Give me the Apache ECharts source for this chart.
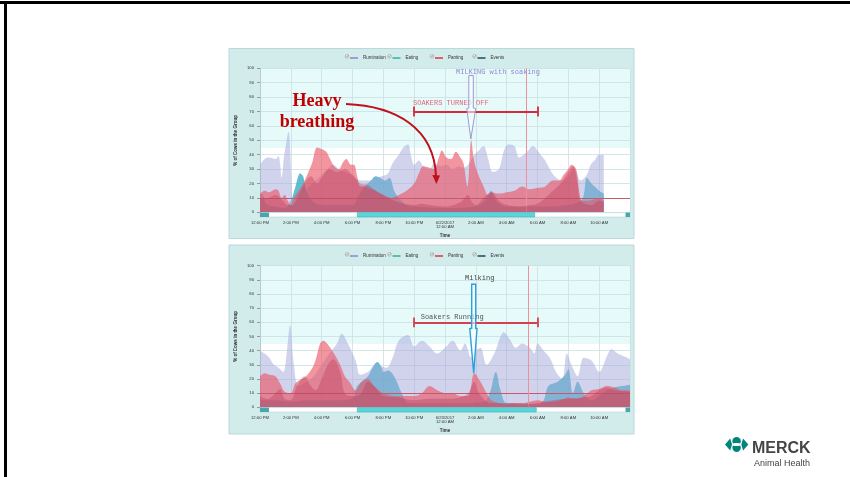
<!DOCTYPE html>
<html><head><meta charset="utf-8">
<script src="https://cdn.jsdelivr.net/npm/echarts@6/dist/echarts.min.js"></script>
<style>html,body{margin:0;padding:0;background:#fff}#c{width:850px;height:477px}</style>
</head><body><div id="c"></div>
<script>
// ---------- tick labels / names ----------
const legendNames = ['Rumination', 'Eating', 'Panting', 'Events'];
const xTickLabelsTop = ['12:00 PM','2:00 PM','4:00 PM','6:00 PM','8:00 PM','10:00 PM','6/22/2017\n12:00 AM','2:00 AM','4:00 AM','6:00 AM','8:00 AM','10:00 AM',''];
const xTickLabelsBottom = ['12:00 PM','2:00 PM','4:00 PM','6:00 PM','8:00 PM','10:00 PM','6/23/2017\n12:00 AM','2:00 AM','4:00 AM','6:00 AM','8:00 AM','10:00 AM',''];
const yTickValues = [0,10,20,30,40,50,60,70,80,90,100];

// ---------- data: [hours after 12:00 PM, % of cows] ----------
const ruminationTop = [[0,33],[0.3,37],[0.6,38],[1.0,37],[1.2,39],[1.3,34],[1.4,24],[1.55,38],[1.7,48],[1.85,56],[1.95,45],[2.05,20],[2.15,8],[2.4,10],[2.8,14],[3.2,18],[3.6,22],[4.0,26],[4.4,30],[4.75,33],[5.1,30],[5.5,28],[5.9,26],[6.3,23],[6.7,22],[7.1,22],[7.5,24],[7.9,25],[8.3,27],[8.6,34],[9.0,40],[9.3,45],[9.6,47],[9.8,39],[10.0,33],[10.3,36],[10.6,32],[11.0,30],[11.3,34],[11.7,32],[12.1,33],[12.5,30],[12.9,32],[13.2,31],[13.5,33],[13.9,40],[14.2,43],[14.5,46],[14.8,37],[15.1,28],[15.5,30],[15.8,42],[16.1,47],[16.5,46],[16.8,38],[17.1,40],[17.4,43],[17.7,46],[18.0,43],[18.2,40],[18.5,36],[18.8,30],[19.1,25],[19.6,22],[20.0,25],[20.4,30],[20.8,22],[21.2,26],[21.45,33],[21.7,36],[22.0,40],[22.3,40]];
const eatingTop = [[0,13],[0.2,12],[0.4,6],[1,4],[1.6,3],[2.0,8],[2.3,18],[2.6,27],[2.8,25],[3.0,15],[3.4,8],[4,5],[5,5],[6,5],[6.4,12],[6.8,18],[7.2,22],[7.5,25],[7.8,24],[8.1,22],[8.4,24],[8.7,15],[9.0,10],[9.5,5],[10,4],[12,3],[14,4],[14.6,8],[15.0,15],[15.3,8],[16,4],[18,4],[20,5],[20.8,8],[21.0,12],[21.2,24],[21.5,20],[21.8,17],[22.0,15],[22.3,13]];
const pantingTop = [[0,13],[0.3,15],[0.6,14],[1.0,16],[1.2,15],[1.4,10],[1.6,12],[1.8,8],[2.0,5],[2.2,10],[2.5,15],[2.8,20],[3.1,27],[3.4,35],[3.7,45],[4.0,44],[4.3,42],[4.5,38],[4.8,32],[5.1,30],[5.4,35],[5.6,37],[5.9,33],[6.1,33],[6.3,25],[6.5,18],[6.8,18],[7.0,17],[7.5,15],[8.0,12],[8.5,10],[9.0,12],[9.5,15],[10.0,20],[10.3,27],[10.6,32],[11.0,31],[11.3,30],[11.6,38],[11.8,43],[12.1,38],[12.4,37],[12.7,42],[13.0,38],[13.2,34],[13.45,18],[13.7,50],[13.9,35],[14.2,25],[14.5,18],[14.8,12],[15.0,14],[15.5,13],[16.0,14],[16.5,15],[17.0,18],[17.5,16],[18.0,17],[18.5,18],[19.0,22],[19.4,22],[19.7,26],[20.0,30],[20.2,33],[20.5,30],[20.7,15],[20.9,8],[21.3,8],[21.7,9],[22.0,10],[22.3,8]];
const pantingLowTop = [[0,10],[0.5,10],[1.0,12],[1.5,8],[1.8,5],[2.1,5],[2.5,12],[3.0,22],[3.3,25],[3.7,20],[4.0,24],[4.5,30],[5.0,28],[5.5,30],[6.0,26],[6.5,20],[7.0,19],[7.5,15],[8.0,12],[8.5,9],[9.0,7],[10.0,5],[10.5,6],[11.0,5],[12.0,4],[13.0,7],[13.5,12],[13.7,8],[14.0,5],[14.5,10],[15.0,14],[15.5,8],[16.0,5],[17.0,4],[17.5,5],[18.0,6],[18.5,10],[19.0,15],[19.5,20],[20.0,28],[20.3,32],[20.6,20],[20.8,8],[21.5,5],[22.0,8],[22.3,7]];

const ruminationBottom = [[0,40],[0.3,38],[0.6,35],[0.9,30],[1.2,28],[1.5,25],[1.75,40],[1.95,58],[2.2,30],[2.5,15],[3.0,18],[3.5,22],[4.0,30],[4.5,38],[5.0,45],[5.3,52],[5.7,45],[6.2,33],[6.5,23],[7.0,25],[7.5,30],[8.2,28],[8.6,35],[9.0,47],[9.6,51],[10.0,43],[10.5,47],[11.0,43],[11.5,38],[12.0,42],[12.5,47],[13.0,40],[13.3,45],[13.7,35],[14.0,40],[14.3,42],[14.7,30],[15.2,38],[15.6,50],[15.8,53],[16.2,48],[16.6,42],[17.0,45],[17.5,42],[17.8,38],[18.0,45],[18.4,40],[18.8,35],[19.2,25],[19.6,20],[19.9,38],[20.2,30],[20.6,22],[21.0,35],[21.5,33],[22.0,25],[22.5,36],[22.8,41],[23.2,38],[23.6,36],[24.0,34]];
const eatingBottom = [[0,5],[1,5],[2,4],[3,5],[4,5],[5,5],[6,6],[6.3,15],[7.0,22],[7.3,28],[7.6,32],[7.9,28],[8.0,25],[8.3,26],[8.7,22],[9.2,10],[9.6,3],[11,3],[13,3],[14.5,4],[14.9,10],[15.3,25],[15.6,12],[16.0,3],[17,3],[18,2],[18.4,5],[18.7,15],[19.3,18],[19.8,23],[20.0,27],[20.3,10],[20.6,18],[21.0,10],[21.5,5],[22.0,8],[22.5,12],[23.0,14],[23.5,15],[24.0,16]];
const pantingBottom = [[0,22],[0.3,24],[0.6,23],[1.0,22],[1.3,17],[1.6,11],[2.0,10],[2.3,17],[2.7,20],[3.0,22],[3.5,30],[3.9,45],[4.1,47],[4.5,43],[4.8,38],[5.2,30],[5.5,22],[5.8,18],[6.2,12],[6.6,18],[7.0,20],[7.4,15],[8.0,10],[9.0,8],[10.0,8],[10.5,10],[11.0,15],[11.5,12],[12.0,10],[12.5,10],[13.0,8],[13.5,8],[13.9,24],[14.3,18],[14.7,10],[15.0,5],[15.5,3],[16.0,2],[16.5,3],[17.0,3],[17.5,4],[18.0,5],[18.5,4],[19.0,4],[19.5,5],[20.0,7],[20.5,6],[21.0,8],[21.5,12],[22.0,13],[22.5,15],[23.0,14],[23.5,12],[24.0,12]];
const pantingLowBottom = [[0,8],[0.5,6],[1.0,10],[1.3,13],[1.6,6],[2.0,5],[2.4,15],[2.9,22],[3.3,15],[3.6,12],[4.0,20],[4.4,30],[4.75,34],[5.2,25],[5.5,10],[6.0,8],[6.5,9],[7.0,18],[7.4,15],[8.0,8],[9.0,7],[10.0,5],[11.0,6],[12.0,6],[13.0,7],[13.5,10],[13.9,18],[14.2,10],[15.0,3],[16.0,3],[17.0,2],[18.0,3],[19.0,5],[20.0,6],[21.0,7],[21.5,8],[22.0,12],[22.5,14],[23.0,12],[24.0,11]];

// ---------- styles ----------
const seriesColors = {Rumination:'#8c8cd8', Eating:'#3ab5a6', Panting:'#e0404a', Events:'#22566a'};
const FONT = '"Liberation Sans", Arial, sans-serif';
const MONO = '"Liberation Mono", "Courier New", monospace';

const grids = [
  {left:260, top:68.3, width:370, height:144},
  {left:260, top:265.7, width:370, height:141.6}
];
const plotBg = {type:'linear', x:0, y:0, x2:0, y2:1, colorStops:[
  {offset:0, color:'#e6fafa'},{offset:0.55, color:'#e6fafa'},{offset:0.551, color:'#ffffff'},{offset:1, color:'#ffffff'}]};

function xAxisFor(i, labels) {
  return {type:'value', gridIndex:i, min:0, max:24, interval:2,
    name:'Time', nameLocation:'middle', nameGap:21,
    nameTextStyle:{fontSize:4.5, fontWeight:'bold', color:'#333', fontFamily:FONT},
    axisLine:{show:false}, axisTick:{show:false},
    axisLabel:{fontSize:4.2, color:'#333', margin:8, lineHeight:4.6, fontFamily:FONT,
      formatter: v => labels[Math.round(v/2)] || ''},
    splitLine:{show:true, lineStyle:{color:'#c9dfe2', width:0.8}}};
}
function yAxisFor(i) {
  return {type:'value', gridIndex:i, min:0, max:100, interval:10,
    name:'% of Cows in the Group', nameLocation:'middle', nameGap:22,
    nameTextStyle:{fontSize:4.5, fontWeight:'bold', color:'#333', fontFamily:FONT},
    axisLine:{show:true, lineStyle:{color:'#b8cccf'}},
    axisTick:{show:true, length:3, lineStyle:{color:'#999'}},
    axisLabel:{fontSize:4.2, color:'#333', margin:6, fontFamily:FONT,
      formatter: v => yTickValues.indexOf(v) >= 0 ? String(v) : ''},
    splitLine:{show:true, lineStyle:{color:'#c9dfe2', width:0.8}}};
}
function area(name, i, data, fill, opacity, z) {
  return {name:name, type:'line', xAxisIndex:i, yAxisIndex:i, data:data, smooth:0.35,
    symbol:'none', showSymbol:false, lineStyle:{width:0}, color:seriesColors[name] || fill,
    areaStyle:{color:fill, opacity:opacity}, z:z, silent:true};
}
function eventsFor(i, vLine, bracketY, bracketColor) {
  return {name:'Events', type:'line', xAxisIndex:i, yAxisIndex:i, data:[], color:seriesColors.Events, z:8,
    markLine:{silent:true, symbol:'none', label:{show:false}, animation:false,
      data:[
        {yAxis:10, lineStyle:{color:'#c8586c', width:1, type:'solid'}},
        {xAxis:vLine, lineStyle:{color:'#ee8f9a', width:1, type:'solid'}},
        [{coord:[10,bracketY], lineStyle:{color:bracketColor, width:1.8, type:'solid'}},{coord:[18,bracketY]}],
        [{coord:[10,bracketY-3.5], lineStyle:{color:bracketColor, width:1.8, type:'solid'}},{coord:[10,bracketY+3.5]}],
        [{coord:[18,bracketY-3.5], lineStyle:{color:bracketColor, width:1.8, type:'solid'}},{coord:[18,bracketY+3.5]}]
      ]}};
}

const series = [];
[[eatingTop, ruminationTop, pantingTop, pantingLowTop],[eatingBottom, ruminationBottom, pantingBottom, pantingLowBottom]].forEach((d, i) => {
  series.push(area('Eating', i, d[0], '#3aaec4', 0.8, 2));
  series.push(area('Rumination', i, d[1], '#a3a8da', 0.5, 3));
  series.push(area('Panting', i, d[2], '#ea5464', 0.62, 4));
  series.push(area('Panting (baseline)', i, d[3], '#b83a5a', 0.36, 5));
});
series.push(eventsFor(0, 17.3, 70, '#d42a3a'));
series.push(eventsFor(1, 17.4, 60, '#d44050'));

// legends: one component per item so each sits at a fixed slot
const legendSlots = [350, 392.5, 435, 477.5];
const legendRows = [55.5, 253.5];
const legends = [];
legendRows.forEach(top => legendNames.forEach((n, k) => legends.push({
  data:[n], left:legendSlots[k], top:top, padding:0, itemWidth:8, itemHeight:1.6, icon:'rect',
  selectedMode:false, textStyle:{fontSize:4.5, color:'#333', fontFamily:FONT}
})));

// ---------- decorative graphics ----------
const g = [];
// slide border
g.push({type:'rect', shape:{x:0, y:1, width:850, height:3}, style:{fill:'#000'}, z:-100, silent:true});
g.push({type:'rect', shape:{x:4, y:1, width:3, height:476}, style:{fill:'#000'}, z:-100, silent:true});
// chart panels
[[48.5, 190], [245, 189]].forEach(p => g.push({type:'rect', shape:{x:229, y:p[0], width:405, height:p[1]},
  style:{fill:'#d2ebeb', stroke:'#b9d9da', lineWidth:1}, z:-90, silent:true}));
// legend check boxes
legendRows.forEach(top => legendSlots.forEach(x => {
  g.push({type:'circle', shape:{cx:x-3, cy:top+0.8, r:1.8}, style:{fill:'#f4f4f4', stroke:'#888', lineWidth:0.5}, z:50, silent:true});
  g.push({type:'polyline', shape:{points:[[x-4,top+0.8],[x-3.2,top+1.6],[x-1.8,top-0.3]]}, style:{stroke:'#666', lineWidth:0.5, fill:null}, z:51, silent:true});
}));
// scrollbars
[[212.6, 357.3, 177.4], [407.6, 357.3, 179]].forEach(s => {
  g.push({type:'rect', shape:{x:260, y:s[0], width:370, height:4.4}, style:{fill:'#ffffff', stroke:'#a9cfd2', lineWidth:0.5}, z:40, silent:true});
  g.push({type:'rect', shape:{x:s[1], y:s[0], width:s[2], height:4.4}, style:{fill:'#5ad6d8', stroke:'#3aa8b0', lineWidth:0.5}, z:41, silent:true});
  g.push({type:'rect', shape:{x:260, y:s[0], width:9, height:4.4}, style:{fill:'#4aa5ad'}, z:42, silent:true});
  g.push({type:'rect', shape:{x:625.5, y:s[0], width:4.5, height:4.4}, style:{fill:'#4aa5ad'}, z:42, silent:true});
});
// top annotations
g.push({type:'text', style:{text:'Heavy', x:317, y:101, textAlign:'center', textVerticalAlign:'middle', fill:'#c00000', font:'bold 18px "Liberation Serif", "Times New Roman", serif'}, z:60, silent:true});
g.push({type:'text', style:{text:'breathing', x:317, y:122, textAlign:'center', textVerticalAlign:'middle', fill:'#c00000', font:'bold 18px "Liberation Serif", "Times New Roman", serif'}, z:60, silent:true});
g.push({type:'bezierCurve', shape:{x1:346, y1:104, cpx1:396, cpy1:106, cpx2:434, cpy2:128, x2:436, y2:176}, style:{stroke:'#c0101a', lineWidth:2, fill:null}, z:60, silent:true});
g.push({type:'polygon', shape:{points:[[432.3,175],[440,175.5],[436.4,184]]}, style:{fill:'#c0101a'}, z:60, silent:true});
g.push({type:'text', style:{text:'SOAKERS TURNED OFF', x:413, y:103, textVerticalAlign:'middle', fill:'#e06a7a', font:'7px ' + MONO}, z:60, silent:true});
g.push({type:'text', style:{text:'MILKING with soaking', x:456, y:72, textVerticalAlign:'middle', fill:'#8a8ad2', font:'7px ' + MONO}, z:60, silent:true});
g.push({type:'polygon', shape:{points:[[468.8,75.5],[473.3,75.5],[473.3,108],[475.7,108.5],[470.8,139],[466.8,108.5],[468.8,108]]},
  style:{fill:'rgba(255,255,255,0.55)', stroke:'#9a9ad0', lineWidth:1}, z:60, silent:true});
// bottom annotations
g.push({type:'text', style:{text:'Milking', x:479.7, y:278, textAlign:'center', textVerticalAlign:'middle', fill:'#444', font:'7px ' + MONO}, z:60, silent:true});
g.push({type:'text', style:{text:'Soakers Running', x:420.7, y:316.7, textVerticalAlign:'middle', fill:'#555', font:'7px ' + MONO}, z:60, silent:true});
g.push({type:'polygon', shape:{points:[[471.7,284.3],[475.7,284.3],[475.7,328.3],[477,328.5],[473.7,373.3],[469.8,328.5],[471.7,328.3]]},
  style:{fill:'rgba(255,255,255,0.6)', stroke:'#2aa0dc', lineWidth:1.4}, z:60, silent:true});
// Merck logo
const LOGO = '#00857c';
g.push({type:'circle', shape:{cx:736.6, cy:441.2, r:4.2}, style:{fill:LOGO}, z:60, silent:true});
g.push({type:'circle', shape:{cx:736.6, cy:447.8, r:4.2}, style:{fill:LOGO}, z:60, silent:true});
g.push({type:'polygon', shape:{points:[[725,444.5],[730.2,438.6],[732,444.5],[730.2,450.4]]}, style:{fill:LOGO}, z:60, silent:true});
g.push({type:'polygon', shape:{points:[[748.3,444.5],[743.1,438.6],[741.3,444.5],[743.1,450.4]]}, style:{fill:LOGO}, z:60, silent:true});
g.push({type:'ellipse', shape:{cx:736.6, cy:444.5, rx:4.8, ry:1.5}, style:{fill:'#ffffff'}, z:61, silent:true});
g.push({type:'text', style:{text:'MERCK', x:752, y:448.5, textVerticalAlign:'middle', fill:'#454545', font:'bold 16px ' + FONT}, z:60, silent:true});
g.push({type:'text', style:{text:'Animal Health', x:754, y:463.5, textVerticalAlign:'middle', fill:'#454545', font:'9px ' + FONT}, z:60, silent:true});

const chart = echarts.init(document.getElementById('c'), null, {renderer:'canvas'});
chart.setOption({
  animation:false,
  backgroundColor:'#ffffff',
  textStyle:{fontFamily:FONT},
  grid: grids.map(gr => Object.assign({show:true, backgroundColor:plotBg, borderWidth:0, containLabel:false}, gr)),
  xAxis:[xAxisFor(0, xTickLabelsTop), xAxisFor(1, xTickLabelsBottom)],
  yAxis:[yAxisFor(0), yAxisFor(1)],
  legend: legends,
  series: series,
  graphic: {elements: g}
});
</script>
</body></html>
